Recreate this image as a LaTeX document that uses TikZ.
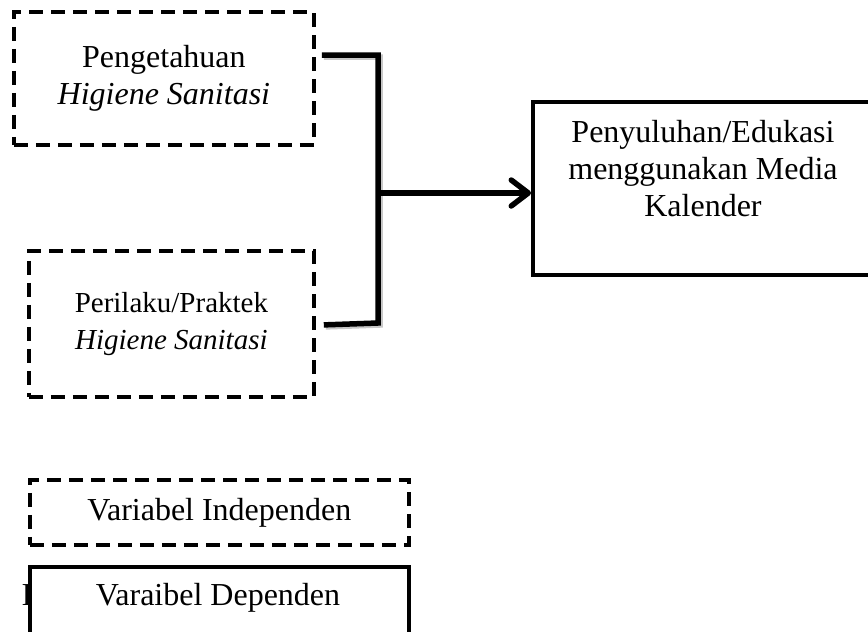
\documentclass[tikz,border=0pt]{standalone}
\usepackage{fontspec}
\setmainfont{Liberation Serif}
\usetikzlibrary{arrows.meta,calc}
\begin{document}
\begin{tikzpicture}[x=1pt,y=-1pt,
  dbox/.style={draw,line width=3.8pt,dash pattern=on 14pt off 8pt,inner sep=0pt,anchor=north west},
  sbox/.style={draw,line width=3.5pt,fill=white,inner sep=0pt,anchor=north west},
  lbl/.style={font=\fontsize{32}{37}\selectfont,align=center,inner sep=0pt},
  lbls/.style={font=\fontsize{29}{37}\selectfont,align=center,inner sep=0pt},
  conn/.style={line width=5.5pt,line join=miter},
  shadowline/.style={line width=5.5pt,black!22}]
\useasboundingbox (0,0) rectangle (868,632);
\clip (0,0) rectangle (868,632);
% boxes
\node[dbox,minimum width=300pt,minimum height=133pt] (b1) at (12,10) {};
\node[dbox,minimum width=285pt,minimum height=146pt] (b2) at (27,249) {};
\node[draw,line width=3.5pt,inner sep=0pt,anchor=north west,minimum width=345pt,minimum height=173pt] (b3) at (531,100) {};
% texts
\node[lbl] (t1) at (b1.center) {Pengetahuan\\\textit{Higiene Sanitasi}};
\node[lbls] (t2) at (b2.center) {Perilaku/Praktek\\\textit{Higiene Sanitasi}};
\node[lbl,anchor=north] (t3) at (703,120) {Penyuluhan/Edukasi\\menggunakan Media\\Kalender};
% connectors
\coordinate (p1) at ($(b1.north east)+(6,45)$);
\coordinate (c1) at (378,55);
\coordinate (c2) at (378,323);
\coordinate (p2) at ($(b2.east)+(8,1)$);
\coordinate (j) at (378,193);
\draw[shadowline] ($(p1)+(2,2)$) -- ($(c1)+(2,2)$) -- ($(c2)+(2,2)$) -- ($(p2)+(2,2)$);
\draw[conn] (p1) -- (c1) -- (c2) -- (p2);
\draw[conn,-{Straight Barb[length=17pt,width=26pt,round]}] (j) -- (j -| b3.west);
% legend
\node[dbox,minimum width=379pt,minimum height=65pt] (l1) at (28,478) {};
\node[lbl] (lt1) at (l1.center) {Variabel Independen};
\node[lbl,anchor=base west] (hid) at (21.5,605) {I};
\node[sbox,minimum width=379pt,minimum height=100pt] (l2) at (28,565) {};
\node[lbl,anchor=base] (lt2) at (218,605) {Varaibel Dependen};
\end{tikzpicture}
\end{document}
